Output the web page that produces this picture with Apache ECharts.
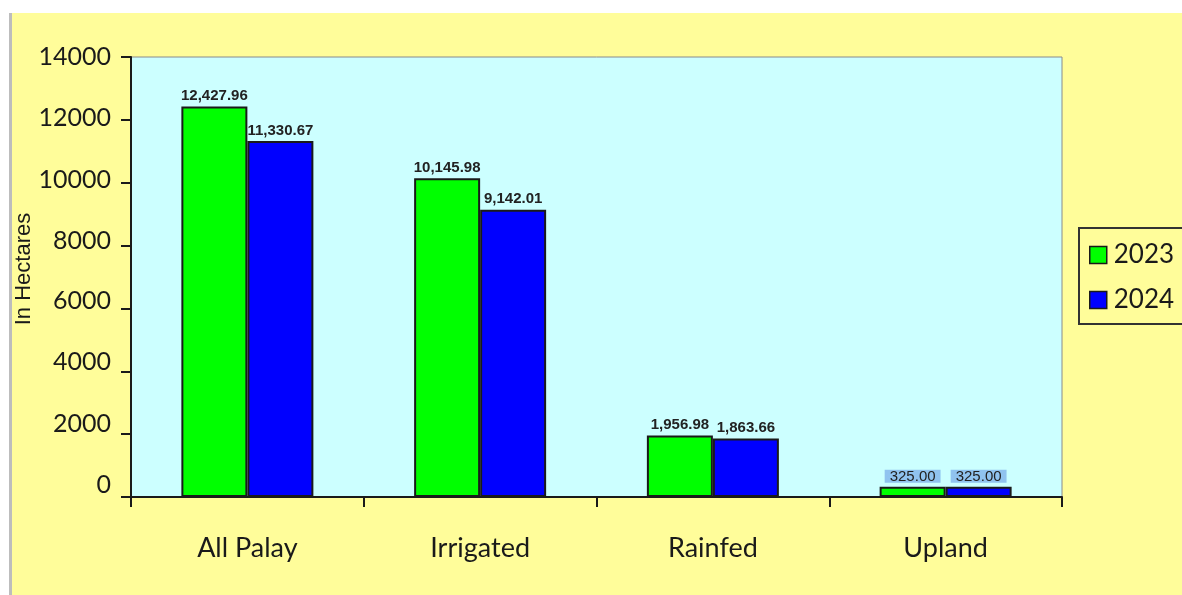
<!DOCTYPE html>
<html>
<head>
<meta charset="utf-8">
<script src="https://cdn.jsdelivr.net/npm/echarts@6/dist/echarts.min.js"></script>
<style>
  html, body { margin: 0; padding: 0; background: #ffffff; }
  #chart { width: 1182px; height: 595px; }
</style>
</head>
<body>
<div id="chart"></div>
<script>
// Palay area harvested, in hectares
const categories = ['All Palay', 'Irrigated', 'Rainfed', 'Upland'];
const values2023 = [12427.96, 10145.98, 1956.98, 325.00];
const values2024 = [11330.67, 9142.01, 1863.66, 325.00];
const yTicks = [0, 2000, 4000, 6000, 8000, 10000, 12000, 14000];
const seriesNames = ['2023', '2024'];

const fmt = v => v.toLocaleString('en-US', { minimumFractionDigits: 2, maximumFractionDigits: 2 });

// The small Upland bars carry plain labels with a blue highlight strip
function buildData(values) {
  return values.map((v, i) => {
    if (categories[i] === 'Upland') {
      return {
        value: v,
        label: {
          fontWeight: 'normal',
          fontSize: 15,
          backgroundColor: 'rgba(95,145,225,0.55)',
          padding: [0, 5, -2, 5],
          distance: 4
        }
      };
    }
    return v;
  });
}

// Tick labels sit a little higher toward the bottom of the value axis;
// each label gets its own rich style whose bottom padding lifts it.
const yMax = yTicks[yTicks.length - 1];
const yRich = {};
yTicks.forEach((v, i) => {
  const lift = Math.round(12 * (1 - v / yMax));
  yRich['t' + i] = {
    fontFamily: 'Lato, Open Sans, sans-serif',
    fontSize: 25,
    color: '#1a1a1a',
    padding: [0, 0, lift * 2, 0]
  };
});

const chart = echarts.init(document.getElementById('chart'));

const barLabel = {
  show: true,
  position: 'top',
  distance: 3,
  formatter: p => fmt(p.value),
  fontFamily: 'Liberation Sans, Arial, sans-serif',
  fontWeight: 'bold',
  fontSize: 15,
  color: '#222222'
};

const axisFont = 'Lato, Open Sans, sans-serif';

chart.setOption({
  backgroundColor: '#ffffff',
  animation: false,
  graphic: [
    { type: 'rect', z: -10, shape: { x: 9, y: 13, width: 4, height: 600 }, style: { fill: '#bdbdbd' } },
    { type: 'rect', z: -10, shape: { x: 12, y: 13, width: 1200, height: 600 }, style: { fill: '#FFFD9A' } }
  ],
  grid: {
    left: 131, right: 120, top: 57, bottom: 98,
    outerBoundsMode: 'none',
    containLabel: false,
    show: true,
    backgroundColor: '#CCFFFF',
    borderColor: '#8a8a8a',
    borderWidth: 1
  },
  legend: {
    orient: 'vertical',
    left: 1079,
    top: 228,
    data: seriesNames,
    icon: 'rect',
    itemWidth: 17,
    itemHeight: 17,
    itemGap: 19,
    itemStyle: { borderColor: '#1a1a1a', borderWidth: 1.5 },
    padding: [14, 60, 11, 10],
    borderColor: '#333333',
    borderWidth: 2,
    backgroundColor: '#FFFD9A',
    textStyle: { fontFamily: axisFont, fontSize: 26, color: '#1a1a1a', padding: [0, 0, 0, 2] }
  },
  xAxis: {
    type: 'category',
    data: categories,
    axisLine: { lineStyle: { color: '#1a1a1a', width: 2 } },
    axisTick: { show: true, length: 10, lineStyle: { color: '#1a1a1a', width: 2 } },
    axisLabel: { margin: 38, fontFamily: axisFont, fontSize: 27, color: '#1a1a1a' }
  },
  yAxis: {
    type: 'value',
    min: yTicks[0],
    max: yMax,
    interval: yTicks[1] - yTicks[0],
    name: 'In Hectares',
    nameLocation: 'middle',
    nameGap: 96,
    nameMoveOverlap: false,
    nameTextStyle: {
      fontFamily: 'Liberation Sans, Arial, sans-serif',
      fontSize: 22,
      color: '#1a1a1a',
      padding: [0, 0, 0, 16]
    },
    axisLine: { show: true, lineStyle: { color: '#1a1a1a', width: 2 } },
    axisTick: { show: true, length: 10, lineStyle: { color: '#1a1a1a', width: 2 } },
    splitLine: { show: false },
    axisLabel: {
      margin: 20,
      formatter: (v) => '{t' + yTicks.indexOf(v) + '|' + v + '}',
      rich: yRich,
      fontFamily: axisFont,
      fontSize: 25,
      color: '#1a1a1a'
    }
  },
  series: [
    {
      name: seriesNames[0],
      type: 'bar',
      data: buildData(values2023),
      barWidth: 66,
      barGap: '0%',
      itemStyle: { color: '#00FF00', borderColor: '#1a1a1a', borderWidth: 2 },
      label: barLabel
    },
    {
      name: seriesNames[1],
      type: 'bar',
      data: buildData(values2024),
      barWidth: 66,
      barGap: '0%',
      itemStyle: { color: '#0000FF', borderColor: '#1a1a1a', borderWidth: 2 },
      label: barLabel
    }
  ]
});
</script>
</body>
</html>
